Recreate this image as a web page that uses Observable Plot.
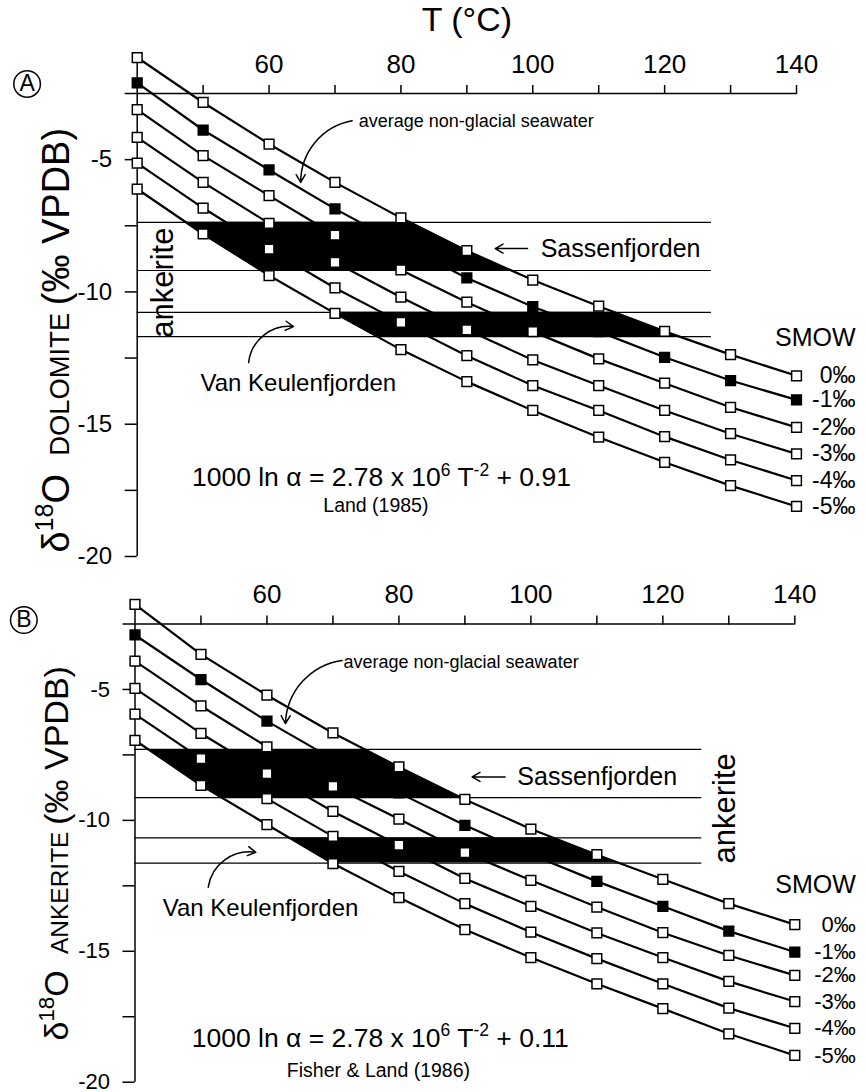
<!DOCTYPE html>
<html><head><meta charset="utf-8">
<script src="https://cdn.jsdelivr.net/npm/d3@7"></script>
<script src="https://cdn.jsdelivr.net/npm/@observablehq/plot@0.6"></script>
<style>
body{margin:0;background:#fff;}
#chart svg{display:block;}
</style></head><body><div id="chart"></div>
<script>
// ---- shared categories / ticks ----
const temps = [40, 50, 60, 70, 80, 90, 100, 110, 120, 130, 140];
const smowValues = [0, -1, -2, -3, -4, -5];
const smowLabels = ["0‰", "-1‰", "-2‰", "-3‰", "-4‰", "-5‰"];
const xTicks = [50, 60, 70, 80, 90, 100, 110, 120, 130, 140];
const xTickLabels = [60, 80, 100, 120, 140];
const yTicks = [-20, -17.5, -15, -12.5, -10, -7.5, -5, -2.5];
const yTickLabels = [-20, -15, -10, -5];

// ---- Panel A: δ18O dolomite (‰ VPDB), one array per water δ18O (SMOW) ----
const dol0 = [-1.14, -2.84, -4.41, -5.86, -7.20, -8.44, -9.55, -10.54, -11.49, -12.37, -13.17];
const dol1 = [-2.10, -3.88, -5.39, -6.86, -8.20, -9.47, -10.56, -11.50, -12.47, -13.35, -14.08];
const dol2 = [-3.11, -4.85, -6.36, -7.85, -9.17, -10.39, -11.50, -12.53, -13.45, -14.36, -15.12];
const dol3 = [-4.16, -5.86, -7.41, -8.88, -10.20, -11.43, -12.57, -13.54, -14.48, -15.36, -16.12];
const dol4 = [-5.13, -6.83, -8.38, -9.85, -11.15, -12.41, -13.54, -14.48, -15.47, -16.35, -17.13];
const dol5 = [-6.11, -7.81, -9.38, -10.81, -12.18, -13.39, -14.48, -15.49, -16.44, -17.32, -18.11];

// ---- Panel B: δ18O ankerite (‰ VPDB) ----
const ank0 = [-1.75, -3.66, -5.22, -6.66, -7.96, -9.20, -10.33, -11.31, -12.25, -13.18, -13.98];
const ank1 = [-2.92, -4.62, -6.21, -7.66, -8.95, -10.19, -11.30, -12.33, -13.28, -14.23, -15.03];
const ank2 = [-3.92, -5.63, -7.19, -8.70, -9.95, -11.23, -12.29, -13.31, -14.29, -15.16, -15.92];
const ank3 = [-4.96, -6.68, -8.21, -9.66, -10.95, -12.22, -13.28, -14.30, -15.24, -16.15, -16.92];
const ank4 = [-5.94, -7.64, -9.17, -10.61, -11.95, -13.18, -14.27, -15.28, -16.24, -17.17, -17.94];
const ank5 = [-6.94, -8.66, -10.16, -11.65, -12.95, -14.17, -15.24, -16.24, -17.19, -18.15, -18.98];

// ---- measured ranges (upper, lower δ18O) ----
const sassA = [-7.37, -9.19];
const vanKA = [-10.77, -11.69];
const sassB = [-7.29, -9.13];
const vanKB = [-10.67, -11.63];
const rangeEndA = 127.1;
const rangeEndB = 125.9;

// ---- annotation anchors (in data units T, δ) ----
const notesA = {
  title: "T (°C)",
  letter: {text: "A", T: 23.3, d: -2.14},
  yTitle: {text: "δ^{18}O\u00A0~{\u00A0DOLOMITE\u00A0}(‰ VPDB)", T: 29.6, d: -19.85},
  seawater: {text: "average non-glacial seawater", T: 73.6, d: -3.53},
  seawaterArrow: {T1: 72.6, d1: -3.53, T2: 64.8, d2: -5.86},
  sass: {text: "Sassenfjorden", T: 101.2, d: -8.36},
  sassArrow: {T1: 99.2, d1: -8.36, T2: 94.3, d2: -8.36},
  vank: {text: "Van Keulenfjorden", T: 49.6, d: -13.46},
  vankArrow: {T1: 56.9, d1: -12.67, T2: 63.7, d2: -11.31},
  ankerite: {text: "ankerite", T: 44.0, d: -9.65},
  equation: {text: "1000 ln α = 2.78 x 10^{6} T^{-2} + 0.91", T: 48.3, d: -17.02},
  source: {text: "Land (1985)", T: 76.2, d: -18.07},
  smow: {text: "SMOW", T: 140, d: -11.73}
};
const notesB = {
  letter: {text: "B", T: 23.15, d: -2.35},
  yTitle: {text: "δ^{18}O\u00A0~{\u00A0ANKERITE\u00A0}(‰ VPDB)", T: 29.8, d: -18.41},
  seawater: {text: "average non-glacial seawater", T: 71.6, d: -3.96},
  seawaterArrow: {T1: 71.4, d1: -3.89, T2: 62.8, d2: -6.30},
  sass: {text: "Sassenfjorden", T: 97.95, d: -8.34},
  sassArrow: {T1: 96.1, d1: -8.34, T2: 91.1, d2: -8.34},
  vank: {text: "Van Keulenfjorden", T: 44.2, d: -13.36},
  vankArrow: {T1: 51.1, d1: -12.55, T2: 58.3, d2: -11.22},
  ankerite: {text: "ankerite", T: 129.5, d: -9.54},
  equation: {text: "1000 ln α = 2.78 x 10^{6} T^{-2} + 0.11", T: 48.6, d: -18.33},
  source: {text: "Fisher & Land (1986)", T: 76.9, d: -19.55},
  smow: {text: "SMOW", T: 140, d: -12.48}
};

// ---- helpers ----
function tAt(vals, y) {
  if (y >= vals[0]) return temps[0];
  for (let i = 0; i < vals.length - 1; i++) {
    if (y <= vals[i] && y >= vals[i + 1])
      return temps[i] + (vals[i] - y) / (vals[i] - vals[i + 1]) * (temps[i + 1] - temps[i]);
  }
  return temps[temps.length - 1];
}
function bandRows([hi, lo], right, left) {
  const ys = new Set([hi, lo]);
  for (const v of [...right, ...left]) if (v < hi && v > lo) ys.add(v);
  return [...ys].sort((a, b) => b - a).map(y => ({y, x1: tAt(left, y), x2: tAt(right, y)}));
}
const one = o => [o];
const FONT = "'Liberation Sans', Arial, Helvetica, sans-serif";

function panel(o) {
  const series = o.series;
  const rows = series.flatMap((vals, k) => vals.map((d, i) => ({T: temps[i], d, s: smowValues[k]})));
  const ends = series.map((vals, k) => ({T: temps[temps.length - 1], d: vals[vals.length - 1], label: smowLabels[k]}));
  const n = o.notes;
  const txt = (key, opts) => Plot.text(one(n[key]), {x: "T", y: "d", text: "text", ...opts});
  const arr = (key, bend) => Plot.arrow(one(n[key]), {x1: "T1", y1: "d1", x2: "T2", y2: "d2", bend, strokeWidth: 1.5, headLength: 9});
  const marks = [
    Plot.ruleY([...o.sass, ...o.vank], {x1: 40, x2: o.rangeEnd, stroke: "black", strokeWidth: 1.2}),
    Plot.areaX(bandRows(o.sass, series[0], series[5]), {y: "y", x1: "x1", x2: "x2", fill: "black"}),
    Plot.areaX(bandRows(o.vank, series[0], series[5]), {y: "y", x1: "x1", x2: "x2", fill: "black"}),
    Plot.ruleX([40], {y1: -20, y2: series[0][0], strokeWidth: 1.5}),
    Plot.ruleY([-2.5], {x1: 40, x2: 140, strokeWidth: 1.5}),
    Plot.axisX({anchor: "top", ticks: xTicks, tickSize: 9, tickPadding: 12, strokeWidth: 1.5,
      tickFormat: d => xTickLabels.includes(d) ? String(d) : "", label: null, fontSize: 26}),
    Plot.axisY({anchor: "left", ticks: yTicks, tickSize: 12, tickPadding: 13, strokeWidth: 1.5,
      tickFormat: d => yTickLabels.includes(d) ? String(d) : "", label: null, fontSize: o.yTickSize}),
    Plot.line(rows, {x: "T", y: "d", z: "s", stroke: "black", strokeWidth: 2.2}),
    Plot.dot(rows.filter(r => r.s !== -1), {x: "T", y: "d", symbol: "square", r: 5.5, fill: "white", stroke: "black", strokeWidth: 1.5}),
    Plot.dot(rows.filter(r => r.s === -1), {x: "T", y: "d", symbol: "square", r: 5.5, fill: "black", stroke: "black", strokeWidth: 1.5}),
    Plot.text(ends, {x: "T", y: "d", text: "label", textAnchor: "end", dx: o.labelDx, fontSize: o.labelSize}),
    txt("smow", {textAnchor: "end", dx: o.labelDx, fontSize: 25}),
    Plot.dot(one(n.letter), {x: "T", y: "d", r: 13.3, stroke: "black", strokeWidth: 1.5, fill: "none"}),
    txt("letter", {fontSize: 23}),
    txt("yTitle", {rotate: -90, textAnchor: "start", lineAnchor: "bottom", fontSize: o.titleSize}),
    txt("seawater", {textAnchor: "start", fontSize: 18}),
    arr("seawaterArrow", -40),
    txt("sass", {textAnchor: "start", fontSize: 25}),
    arr("sassArrow", 0),
    txt("vank", {textAnchor: "start", fontSize: 24}),
    arr("vankArrow", 45),
    txt("ankerite", {rotate: -90, fontSize: 31}),
    txt("equation", {textAnchor: "start", fontSize: 26.5}),
    txt("source", {fontSize: 19.5})
  ];
  if (n.title) marks.push(Plot.text([n.title], {text: d => d, frameAnchor: "top", lineAnchor: "middle", dy: -73, fontSize: 34}));
  return Plot.plot({
    width: 866, height: o.height,
    marginLeft: o.ml, marginRight: o.mr, marginTop: o.mt, marginBottom: o.mb,
    x: {domain: [40, 140]},
    y: {domain: [-20, -2.5]},
    style: {fontFamily: FONT, fontSize: "22px", color: "black", background: "white", overflow: "visible"},
    marks
  });
}

// superscripts (^{..}) and reduced-size runs (~{..}) as real tspans
function richText(root) {
  root.querySelectorAll("text").forEach(t => {
    const s = t.textContent;
    if (!/[\^~]\{/.test(s)) return;
    const fs = parseFloat(getComputedStyle(t).fontSize);
    const parts = s.split(/([\^~]\{[^}]*\})/).filter(p => p !== "");
    t.textContent = "";
    let shift = 0;
    for (const p of parts) {
      const ts = document.createElementNS("http://www.w3.org/2000/svg", "tspan");
      let target = 0, content = p, size = null;
      if (p.startsWith("^{")) { content = p.slice(2, -1); size = fs * 0.66; target = -fs * 0.4; }
      else if (p.startsWith("~{")) { content = p.slice(2, -1); size = fs * 0.72; }
      if (size) ts.setAttribute("font-size", size);
      const dy = target - shift;
      if (dy) ts.setAttribute("dy", dy);
      shift = target;
      ts.textContent = content;
      t.appendChild(ts);
    }
  });
}

const chart = document.getElementById("chart");
const svgA = panel({
  series: [dol0, dol1, dol2, dol3, dol4, dol5], sass: sassA, vank: vanKA, rangeEnd: rangeEndA,
  notes: notesA, height: 580, ml: 136.7, mr: 70, mt: 93, mb: 24, labelDx: 59, titleSize: 38,
  labelSize: 23, yTickSize: 24
});
const svgB = panel({
  series: [ank0, ank1, ank2, ank3, ank4, ank5], sass: sassB, vank: vanKB, rangeEnd: rangeEndB,
  notes: notesB, height: 512, ml: 134.5, mr: 71.7, mt: 43.5, mb: 10.3, labelDx: 61, titleSize: 34,
  labelSize: 22, yTickSize: 22
});
chart.append(svgA, svgB);
richText(chart);
</script></body></html>
